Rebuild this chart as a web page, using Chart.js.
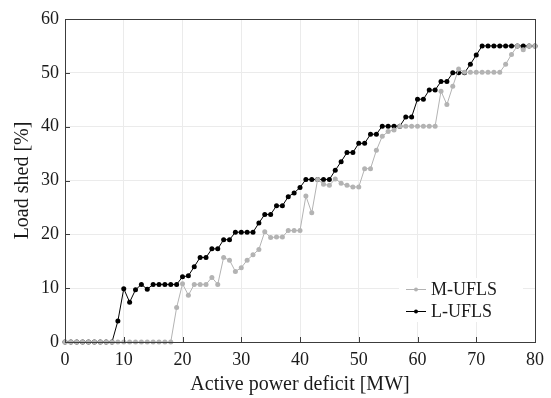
<!DOCTYPE html>
<html>
<head>
<meta charset="utf-8">
<script src="https://cdn.jsdelivr.net/npm/chart.js@4"></script>
<style>
  html, body { margin: 0; padding: 0; background: #fff; }
  #wrap { width: 551px; height: 398px; }
</style>
</head>
<body>
<div id="wrap"><canvas id="myChart" width="551" height="398"></canvas></div>
<script>
// active power deficit [MW]
const mw = [0, 1, 2, 3, 4, 5, 6, 7, 8, 9, 10, 11, 12, 13, 14, 15, 16, 17, 18, 19,
  20, 21, 22, 23, 24, 25, 26, 27, 28, 29, 30, 31, 32, 33, 34, 35, 36, 37, 38, 39,
  40, 41, 42, 43, 44, 45, 46, 47, 48, 49, 50, 51, 52, 53, 54, 55, 56, 57, 58, 59,
  60, 61, 62, 63, 64, 65, 66, 67, 68, 69, 70, 71, 72, 73, 74, 75, 76, 77, 78, 79, 80];

// M-UFLS load shed [%]
const mUfls = [0, 0, 0, 0, 0, 0, 0, 0, 0, 0, 0, 0, 0, 0, 0, 0, 0, 0, 0, 6.4,
  10.8, 8.7, 10.7, 10.7, 10.7, 12.0, 10.7, 15.7, 15.2, 13.1, 13.8, 15.2, 16.2, 17.2, 20.5, 19.4, 19.5, 19.5, 20.7, 20.7,
  20.7, 27.1, 24.0, 30.2, 29.3, 29.1, 30.3, 29.5, 29.1, 28.8, 28.8, 32.2, 32.2, 35.6, 38.2, 39.1, 39.4, 40.1, 40.1, 40.1,
  40.1, 40.1, 40.1, 40.1, 46.6, 44.1, 47.5, 50.7, 50.1, 50.1, 50.1, 50.1, 50.1, 50.1, 50.1, 51.6, 53.4, 55.0, 54.3, 55.0, 55.0];

// L-UFLS load shed [%]
const lUfls = [0, 0, 0, 0, 0, 0, 0, 0, 0, 3.9, 9.9, 7.4, 9.7, 10.7, 9.8, 10.7, 10.7, 10.7, 10.7, 10.7,
  12.1, 12.3, 14.0, 15.7, 15.7, 17.3, 17.3, 19.0, 19.0, 20.4, 20.4, 20.4, 20.4, 22.1, 23.7, 23.7, 25.3, 25.3, 27.0, 27.7,
  28.7, 30.2, 30.2, 30.2, 30.2, 30.2, 31.9, 33.5, 35.2, 35.2, 36.9, 36.9, 38.6, 38.6, 40.1, 40.1, 40.1, 40.1, 41.8, 41.8,
  45.1, 45.1, 46.8, 46.8, 48.4, 48.4, 50.0, 50.0, 50.0, 51.6, 53.3, 55.0, 55.0, 55.0, 55.0, 55.0, 55.0, 55.0, 55.0, 55.0, 55.0];

const xTicks = [0, 10, 20, 30, 40, 50, 60, 70, 80];
const yTicks = [0, 10, 20, 30, 40, 50, 60];

const serif = "'Liberation Serif', 'Times New Roman', serif";
const textColor = "#1a1a1a";
const frameColor = "#3c3c3c";

const toPoints = (vals) => vals.map((v, i) => ({ x: mw[i], y: v }));

// frame + inner tick marks
const framePlugin = {
  id: "frame",
  afterDraw(chart) {
    const { ctx, chartArea: a, scales } = chart;
    ctx.save();
    ctx.strokeStyle = frameColor;
    ctx.lineWidth = 1;
    ctx.strokeRect(a.left + 0.5, a.top + 0.5, a.right - a.left, a.bottom - a.top);
    ctx.beginPath();
    xTicks.forEach((t) => {
      const px = Math.round(scales.x.getPixelForValue(t)) + 0.5;
      ctx.moveTo(px, a.bottom);
      ctx.lineTo(px, a.bottom - 5);
    });
    yTicks.forEach((t) => {
      const py = Math.round(scales.y.getPixelForValue(t)) + 0.5;
      ctx.moveTo(a.left, py);
      ctx.lineTo(a.left + 5, py);
    });
    ctx.stroke();
    ctx.restore();
  },
};

// legend drawn inside the plot, bottom right
const legendPlugin = {
  id: "innerLegend",
  afterDraw(chart) {
    const { ctx, chartArea: a } = chart;
    const x0 = a.right - 129;
    const rows = [a.bottom - 53, a.bottom - 31];
    ctx.save();
    ctx.fillStyle = "#fff";
    ctx.fillRect(a.right - 136, a.bottom - 64, 124, 44);
    chart.data.datasets.forEach((ds, i) => {
      const y = rows[i];
      ctx.strokeStyle = ds.borderColor;
      ctx.lineWidth = 1;
      ctx.beginPath();
      ctx.moveTo(x0, y + 0.5);
      ctx.lineTo(x0 + 20, y + 0.5);
      ctx.stroke();
      ctx.fillStyle = ds.borderColor;
      ctx.beginPath();
      ctx.arc(x0 + 10, y + 0.5, 2, 0, Math.PI * 2);
      ctx.fill();
      ctx.fillStyle = textColor;
      ctx.font = "18px " + serif;
      ctx.textBaseline = "middle";
      ctx.fillText(ds.label, x0 + 25, y + 1);
    });
    ctx.restore();
  },
};

const data = {
  datasets: [
    {
      label: "M-UFLS",
      data: toPoints(mUfls),
      borderColor: "#b3b3b3",
      backgroundColor: "#b3b3b3",
      borderWidth: 1,
      pointRadius: 2.5,
      pointBorderWidth: 0,
      tension: 0,
      clip: false,
    },
    {
      label: "L-UFLS",
      data: toPoints(lUfls),
      borderColor: "#000000",
      backgroundColor: "#000000",
      borderWidth: 1,
      pointRadius: 2.5,
      pointBorderWidth: 0,
      tension: 0,
      clip: false,
    },
  ],
};

const config = {
  type: "line",
  data: data,
  plugins: [framePlugin, legendPlugin],
  options: {
    responsive: false,
    animation: false,
    layout: { padding: { top: 19, right: 16, left: 0, bottom: 0 } },
    plugins: { legend: { display: false }, tooltip: { enabled: false } },
    scales: {
      x: {
        type: "linear",
        min: 0,
        max: 80,
        afterBuildTicks: (s) => { s.ticks = xTicks.map((v) => ({ value: v })); },
        afterFit: (s) => { s.height = 56; },
        grid: { color: "#ebebeb", drawTicks: false },
        border: { color: frameColor },
        ticks: { color: textColor, font: { family: serif, size: 18 }, padding: 7, maxRotation: 0 },
        title: {
          display: true,
          text: "Active power deficit [MW]",
          color: textColor,
          font: { family: serif, size: 20 },
          padding: { top: 0, bottom: 1 },
        },
      },
      y: {
        min: 0,
        max: 60,
        afterBuildTicks: (s) => { s.ticks = yTicks.map((v) => ({ value: v })); },
        afterFit: (s) => { s.width = 65; },
        grid: { color: "#ebebeb", drawTicks: false },
        border: { color: frameColor },
        ticks: { color: textColor, font: { family: serif, size: 18 }, padding: 6 },
        title: {
          display: true,
          text: "Load shed [%]",
          color: textColor,
          font: { family: serif, size: 20 },
          padding: { top: 11, bottom: 0 },
        },
      },
    },
  },
};

const myChart = new Chart(document.getElementById("myChart"), config);
</script>
</body>
</html>
